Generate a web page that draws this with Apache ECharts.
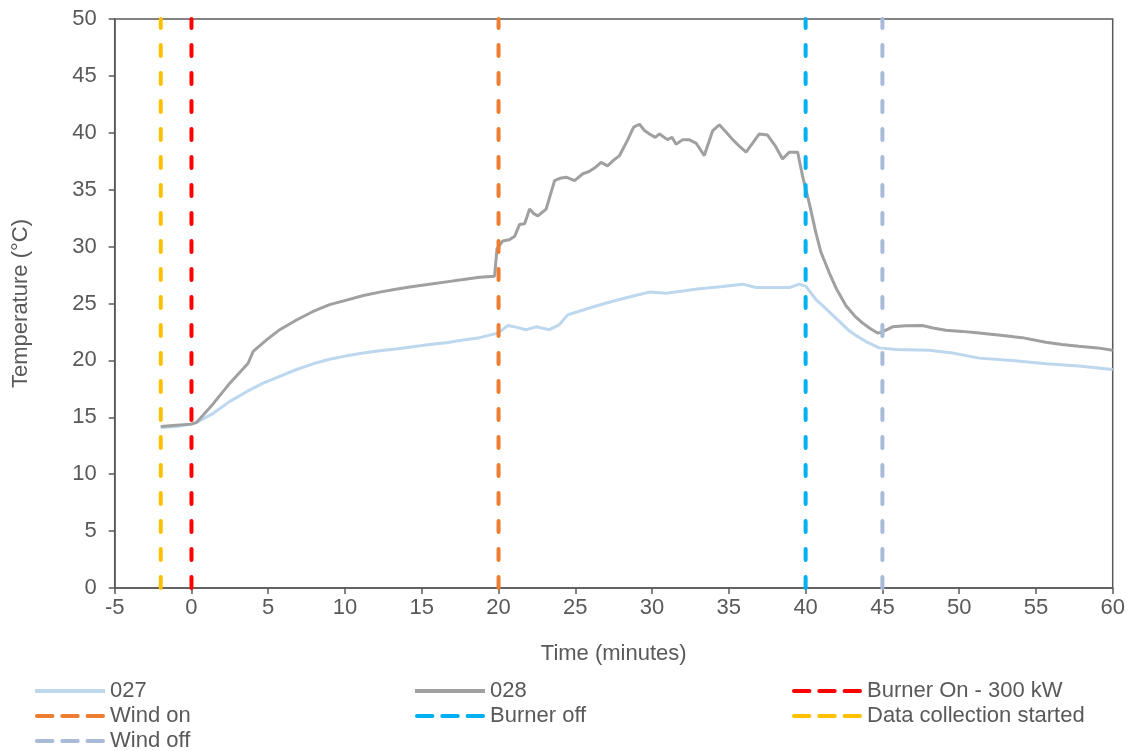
<!DOCTYPE html>
<html>
<head>
<meta charset="utf-8">
<script src="https://cdn.jsdelivr.net/npm/echarts@6/dist/echarts.min.js"></script>
<style>html,body{margin:0;padding:0;background:#fff}#c{width:1134px;height:751px}</style>
</head>
<body>
<div id="c"></div>
<script>
// ---- data ----
const time027 = [-2,-1,0,0.33,1.42,2.5,3.59,4.67,5.75,6.84,7.92,9.0,10.1,11.2,12.26,13.3,14.43,15.5,16.6,17.7,18.77,19.96,20.6,21.2,21.8,22.45,23.32,23.97,24.5,25.2,25.92,26.9,27.88,28.9,29.83,30.9,32.0,33.08,34.6,35.9,36.77,37.8,38.94,39.59,40.02,40.67,41.2,41.75,42.3,42.84,43.27,44.0,44.79,45.88,48.05,49.56,51.3,53.46,55.64,57.8,60];
const temp027 = [14.1,14.2,14.4,14.55,15.35,16.4,17.25,18.0,18.6,19.2,19.7,20.1,20.4,20.65,20.85,21.0,21.2,21.4,21.55,21.8,22.0,22.4,23.06,22.9,22.7,22.95,22.7,23.15,24.0,24.3,24.6,25.0,25.35,25.7,26.0,25.9,26.1,26.3,26.5,26.7,26.4,26.4,26.4,26.7,26.5,25.35,24.7,24.0,23.3,22.6,22.2,21.6,21.1,20.95,20.9,20.65,20.2,20.0,19.7,19.5,19.2];
const time028 = [-2,-1,0,0.33,1.42,2.5,3.69,4.02,4.89,5.75,6.84,7.92,9.0,10.1,11.2,12.26,13.3,14.43,15.5,16.6,17.7,18.77,19.74,19.9,20.28,20.7,21.05,21.37,21.7,22.02,22.3,22.56,23.1,23.65,24.0,24.4,24.95,25.49,25.9,26.25,26.68,27.1,27.5,27.88,28.42,28.8,29.18,29.5,29.83,30.2,30.48,31.0,31.3,31.56,32.0,32.4,32.86,33.4,33.95,34.38,34.8,35.25,35.7,36.12,36.55,36.98,37.52,38.0,38.5,38.94,39.48,39.8,40.24,40.67,41.0,41.54,42.0,42.63,43.2,43.7,44.2,44.68,45.0,45.66,46.5,47.6,48.3,49.13,50.2,51.3,52.7,54.1,55.64,56.7,57.8,59.0,60];
const temp028 = [14.2,14.3,14.4,14.55,16.2,18.0,19.75,20.8,21.8,22.7,23.55,24.3,24.9,25.3,25.7,26.0,26.25,26.5,26.7,26.9,27.1,27.3,27.4,29.8,30.5,30.6,30.9,31.95,32.0,33.3,32.9,32.7,33.3,35.8,36.0,36.1,35.8,36.4,36.6,36.9,37.4,37.1,37.6,38.0,39.4,40.5,40.75,40.2,39.9,39.6,39.9,39.4,39.6,39.0,39.4,39.4,39.1,38.0,40.2,40.7,40.1,39.4,38.8,38.3,39.1,39.9,39.8,38.9,37.7,38.3,38.3,36.2,33.8,31.2,29.5,27.7,26.3,24.8,23.9,23.3,22.8,22.4,22.5,22.95,23.05,23.06,22.85,22.65,22.55,22.4,22.2,22.0,21.6,21.4,21.25,21.1,20.9];
const eventNames = ['Burner On - 300 kW','Wind on','Burner off','Data collection started','Wind off'];
const eventTimes = [0, 20, 40, -2, 45];
const legendOrder = ['027','028','Burner On - 300 kW','Wind on','Burner off','Data collection started','Wind off'];
const xTicks = {min: -5, max: 60, step: 5};
const yTicks = {min: 0, max: 50, step: 5};

// ---- styles ----
const eventColors = {'Burner On - 300 kW':'#FF0000','Wind on':'#ED7D31','Burner off':'#00B0F0','Data collection started':'#FFC000','Wind off':'#A9BAD8'};
const textColor = '#595959';
const axisColor = '#595959';
const font = 'Liberation Sans, Arial, sans-serif';
const solidIcon = 'path://M0,0H70V4H0Z';
const dashIcon = 'path://M1,0H17A1,1 0 0 1 17,4H1A1,1 0 0 1 1,0Z M27,0H43A1,1 0 0 1 43,4H27A1,1 0 0 1 27,0Z M53,0H69A1,1 0 0 1 69,4H53A1,1 0 0 1 53,0Z';
const legendCols = [35, 415, 792];
const legendRowTops = [680, 705, 730];

function pairs(xs, ys){ return xs.map((x,i)=>[x, ys[i]]); }

const series = [
  {name:'027', type:'line', data:pairs(time027,temp027), showSymbol:false, symbol:'none',
   lineStyle:{color:'#BDD7EE', width:3}, itemStyle:{color:'#BDD7EE'}, z:2},
  {name:'028', type:'line', data:pairs(time028,temp028), showSymbol:false, symbol:'none',
   lineStyle:{color:'#A0A0A0', width:3}, itemStyle:{color:'#A0A0A0'}, z:3}
];
eventNames.forEach((n,i)=>{
  series.push({name:n, type:'line', symbol:'none', showSymbol:false,
    data:[[eventTimes[i], yTicks.min],[eventTimes[i], yTicks.max]],
    lineStyle:{color:eventColors[n], width:4, type:[11,17], cap:'round'},
    itemStyle:{color:eventColors[n]}, z:5});
});

const legends = legendOrder.map((n,i)=>({
  orient:'horizontal', padding:0, itemWidth:70, itemHeight:4,
  left:legendCols[i%3], top:legendRowTops[Math.floor(i/3)],
  icon: (n==='027'||n==='028') ? solidIcon : dashIcon,
  data:[n],
  textStyle:{color:textColor, fontSize:22, fontFamily:font, lineHeight:22}
}));

const option = {
  animation:false,
  backgroundColor:'#fff',
  grid:{left:114.7, right:21.3, top:19, bottom:163, show:true, borderColor:axisColor, borderWidth:1.5, containLabel:false},
  xAxis:{type:'value', min:xTicks.min, max:xTicks.max, interval:xTicks.step,
    name:'Time (minutes)', nameLocation:'middle', nameGap:55,
    nameTextStyle:{color:textColor, fontSize:22, fontFamily:font},
    axisLine:{show:true, onZero:false, lineStyle:{color:axisColor, width:1.5}},
    axisTick:{show:true, inside:false, length:6, lineStyle:{color:axisColor, width:1.5}},
    axisLabel:{color:textColor, fontSize:22, fontFamily:font, margin:9},
    splitLine:{show:false}},
  yAxis:{type:'value', min:yTicks.min, max:yTicks.max, interval:yTicks.step,
    name:'Temperature (°C)', nameLocation:'middle', nameGap:83, nameRotate:90,
    nameTextStyle:{color:textColor, fontSize:22, fontFamily:font},
    axisLine:{show:true, onZero:false, lineStyle:{color:axisColor, width:1.5}},
    axisTick:{show:true, inside:false, length:6, lineStyle:{color:axisColor, width:1.5}},
    axisLabel:{color:textColor, fontSize:22, fontFamily:font, margin:18},
    splitLine:{show:false}},
  legend:legends,
  series:series
};
const chart = echarts.init(document.getElementById('c'), null, {renderer:'canvas'});
chart.setOption(option);
</script>
</body>
</html>
